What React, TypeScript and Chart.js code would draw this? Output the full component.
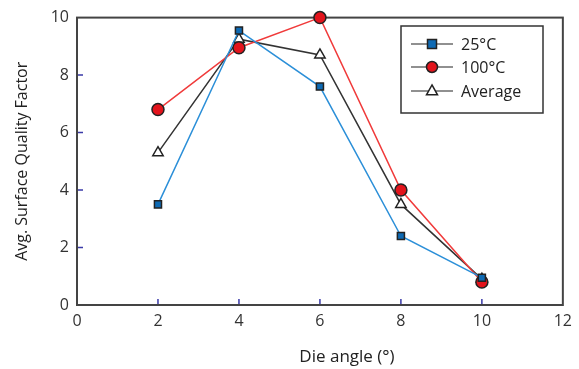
import React, { useEffect, useRef } from "react";
import { Chart, registerables } from "chart.js";

Chart.register(...registerables);

const angles = [2, 4, 6, 8, 10];
const q25 = [3.5, 9.55, 7.6, 2.4, 0.95];
const q100 = [6.8, 8.95, 10, 4.0, 0.8];
const qAvg = [5.3, 9.25, 8.7, 3.5, 0.9];
const seriesLabels = ["25°C", "100°C", "Average"];
const xTicks = [0, 2, 4, 6, 8, 10, 12];
const yTicks = [0, 2, 4, 6, 8, 10];
const xTitle = "Die angle (°)";
const yTitle = "Avg. Surface Quality Factor";

const FONT = "'Open Sans', sans-serif";

function drawMarker(ctx: CanvasRenderingContext2D, style: string, x: number, y: number, r: number, fill: string) {
  ctx.save();
  ctx.fillStyle = fill;
  ctx.strokeStyle = "#222";
  ctx.lineWidth = 1.5;
  ctx.beginPath();
  if (style === "rect") {
    ctx.rect(x - r, y - r, 2 * r, 2 * r);
  } else if (style === "circle") {
    ctx.arc(x, y, r, 0, Math.PI * 2);
  } else {
    ctx.moveTo(x, y - r * 1.1);
    ctx.lineTo(x + r, y + r * 0.7);
    ctx.lineTo(x - r, y + r * 0.7);
    ctx.closePath();
  }
  ctx.fill();
  ctx.stroke();
  ctx.restore();
}

const framePlugin = {
  id: "frame",
  beforeDatasetsDraw(chart: any) {
    const { ctx, chartArea: a, scales } = chart;
    ctx.save();
    ctx.strokeStyle = "#3a3aa8";
    ctx.lineWidth = 1.5;
    ctx.beginPath();
    xTicks.slice(1, -1).forEach((v) => {
      const px = scales.x.getPixelForValue(v);
      ctx.moveTo(px, a.bottom);
      ctx.lineTo(px, a.bottom - 6);
    });
    yTicks.slice(1, -1).forEach((v) => {
      const py = scales.y.getPixelForValue(v);
      ctx.moveTo(a.left, py);
      ctx.lineTo(a.left + 6, py);
    });
    ctx.stroke();
    ctx.strokeStyle = "#444";
    ctx.lineWidth = 2;
    ctx.strokeRect(a.left, a.top, a.right - a.left, a.bottom - a.top);
    ctx.restore();
  },
  afterDraw(chart: any) {
    const { ctx } = chart;
    ctx.save();
    // x axis title
    ctx.fillStyle = "#222";
    ctx.font = `17px ${FONT}`;
    ctx.textAlign = "center";
    ctx.textBaseline = "middle";
    ctx.fillText(xTitle, 347, 357);
    // legend
    ctx.strokeStyle = "#333";
    ctx.lineWidth = 1.5;
    ctx.strokeRect(401, 26, 142, 87);
    const rows = [44, 67, 91];
    chart.data.datasets.forEach((ds: any, i: number) => {
      const y = rows[i];
      ctx.strokeStyle = "#222";
      ctx.lineWidth = 1.2;
      ctx.beginPath();
      ctx.moveTo(411, y);
      ctx.lineTo(453, y);
      ctx.stroke();
      drawMarker(ctx, ds.pointStyle, 432, y, ds.pointRadius - 0.5, ds.pointBackgroundColor);
      ctx.fillStyle = "#222";
      ctx.font = `16px ${FONT}`;
      ctx.textBaseline = "middle";
      ctx.textAlign = "left";
      ctx.fillText(ds.label, 461, y + 1);
    });
    ctx.restore();
  },
};

export default function App() {
  const ref = useRef<HTMLCanvasElement>(null);
  useEffect(() => {
    document.body.style.margin = "0";
    const toPts = (ys: number[]) => angles.map((x, i) => ({ x, y: ys[i] }));
    const chart = new Chart(ref.current!, {
      type: "line",
      data: {
        datasets: [
          {
            label: seriesLabels[0],
            data: toPts(q25),
            borderColor: "#2b8fd8",
            borderWidth: 1.5,
            pointStyle: "rect",
            pointRadius: 5,
            pointBackgroundColor: "#0e6ab4",
            pointBorderColor: "#222",
            pointBorderWidth: 1.5,
            clip: false,
          },
          {
            label: seriesLabels[1],
            data: toPts(q100),
            borderColor: "#f03a3a",
            borderWidth: 1.5,
            pointStyle: "circle",
            pointRadius: 6,
            pointBackgroundColor: "#e3141c",
            pointBorderColor: "#222",
            pointBorderWidth: 1.5,
            clip: false,
          },
          {
            label: seriesLabels[2],
            data: toPts(qAvg),
            borderColor: "#333",
            borderWidth: 1.5,
            pointStyle: "triangle",
            pointRadius: 6,
            pointBackgroundColor: "#ffffff",
            pointBorderColor: "#222",
            pointBorderWidth: 1.5,
            clip: false,
          },
        ] as any,
      },
      options: {
        animation: false,
        responsive: false,
        devicePixelRatio: 1,
        layout: { padding: { top: 15, right: 10, left: 0, bottom: 0 } },
        plugins: { legend: { display: false }, tooltip: { enabled: false } },
        scales: {
          x: {
            type: "linear",
            min: 0,
            max: 12,
            afterBuildTicks: (s: any) => {
              s.ticks = xTicks.map((v) => ({ value: v }));
            },
            afterFit: (s: any) => {
              s.height = 64;
            },
            grid: { display: false, drawTicks: false },
            border: { display: false },
            ticks: { padding: 7, color: "#333", font: { family: FONT, size: 16 }, maxRotation: 0 },
            title: { display: false },
          },
          y: {
            type: "linear",
            min: 0,
            max: 10,
            afterBuildTicks: (s: any) => {
              s.ticks = yTicks.map((v) => ({ value: v }));
            },
            afterFit: (s: any) => {
              s.width = 77;
            },
            grid: { display: false, drawTicks: false },
            border: { display: false },
            ticks: { padding: 8, color: "#333", font: { family: FONT, size: 16 } },
            title: {
              display: true,
              text: yTitle,
              color: "#222",
              font: { family: FONT, size: 16 },
              padding: { top: 13, bottom: 0 },
            },
          },
        },
      } as any,
      plugins: [framePlugin],
    });
    return () => chart.destroy();
  }, []);
  return <canvas ref={ref} width={579} height={369} style={{ display: "block" }} />;
}
